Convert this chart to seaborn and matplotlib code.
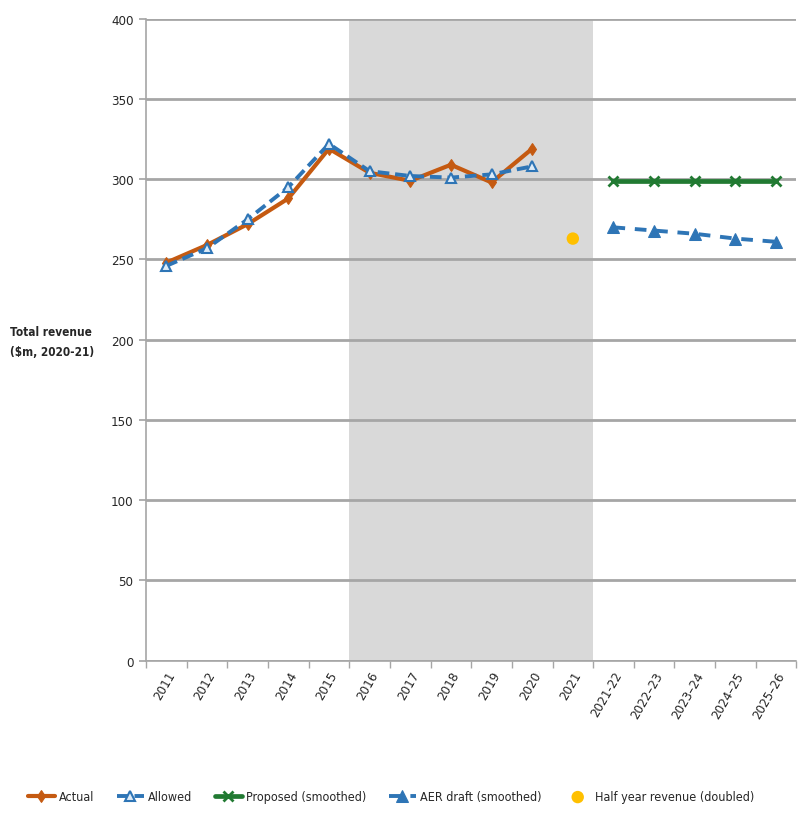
import numpy as np
import pandas as pd
import seaborn as sns
import matplotlib as mpl
from matplotlib import pyplot as plt

# categories on the x axis
years = ['2011', '2012', '2013', '2014', '2015', '2016', '2017', '2018', '2019', '2020',
         '2021', '2021-22', '2022\u201323', '2023\u201324', '2024\u201325', '2025\u201326']

actual_years = years[:10]
actual = [248, 259, 272, 288, 319, 304, 299, 309, 298, 319]
allowed = [246, 257, 275, 295, 322, 305, 302, 301, 303, 308]

future_years = years[11:]
proposed = [299, 299, 299, 299, 299]
aer_draft = [270, 268, 266, 263, 261]

half_year_label = ['2021']
half_year = [263]

sns.set_theme(style="white")
plt.rcParams['font.family'] = ['DejaVu Sans']
plt.rcParams['font.stretch'] = 'condensed'

pos = {y: i for i, y in enumerate(years)}

df_hist = pd.DataFrame({'x': [pos[y] for y in actual_years], 'Actual': actual, 'Allowed': allowed})
df_fut = pd.DataFrame({'x': [pos[y] for y in future_years], 'Proposed': proposed, 'AER': aer_draft})
df_half = pd.DataFrame({'x': [pos[y] for y in half_year_label], 'v': half_year})

fig = plt.figure(figsize=(7.98, 8.2), dpi=100)
ax = fig.add_axes([0.183, 0.193, 0.815, 0.783])

orange = '#C55A11'
blue = '#2E75B6'
green = '#217A32'
yellow = '#FFC000'

ax.axvspan(4.5, 10.5, color='#D9D9D9', zorder=0, lw=0)

sns.lineplot(data=df_hist, x='x', y='Actual', ax=ax, color=orange, lw=3,
             marker='d', markersize=6, markeredgecolor=orange, label='Actual', zorder=3)
sns.lineplot(data=df_hist, x='x', y='Allowed', ax=ax, color=blue, lw=2.8,
             marker='^', markersize=7, markerfacecolor='#DDEBF7', markeredgecolor=blue,
             markeredgewidth=1.5, dashes=False, label='Allowed', zorder=4)
ax.lines[-1].set_linestyle((0, (3, 1.5)))
sns.lineplot(data=df_fut, x='x', y='Proposed', ax=ax, color=green, lw=3.4,
             marker='x', markersize=7, markeredgewidth=2, markeredgecolor=green,
             label='Proposed (smoothed)', zorder=3)
sns.lineplot(data=df_fut, x='x', y='AER', ax=ax, color=blue, lw=2.8,
             marker='^', markersize=8, markeredgecolor=blue,
             label='AER draft (smoothed)', zorder=3)
ax.lines[-1].set_linestyle((0, (3, 2.5)))
sns.scatterplot(data=df_half, x='x', y='v', ax=ax, color=yellow, s=80, marker='o',
                edgecolor='none', label='Half year revenue (doubled)', zorder=3)

ax.set_xlim(-0.5, len(years) - 0.5)
ax.set_ylim(0, 400)
ax.set_yticks(np.arange(0, 401, 50))
ax.yaxis.grid(True, color='#A6A6A6', lw=2)
ax.set_axisbelow(True)

ax.set_xticks(range(len(years)))
ax.set_xticklabels(years, rotation=60, ha='right', rotation_mode='anchor', fontsize=9.5)
ax.xaxis.set_minor_locator(mpl.ticker.FixedLocator(np.arange(-0.5, len(years), 1)))
ax.tick_params(axis='x', which='major', length=0, pad=6)
ax.tick_params(axis='x', which='minor', bottom=True, length=5, color='#A6A6A6')
ax.tick_params(axis='y', left=True, length=5, color='#A6A6A6', labelsize=9.5, pad=4)

for s in ['top', 'right']:
    ax.spines[s].set_visible(False)
for s in ['left', 'bottom']:
    ax.spines[s].set_color('#A6A6A6')
    ax.spines[s].set_linewidth(1.2)

ax.set_xlabel('')
ax.set_ylabel('')
fig.text(0.012, 0.582, 'Total revenue\n($m, 2020-21)', fontsize=8.5, fontweight='bold',
         ha='left', va='center', linespacing=1.7)

handles, labels = ax.get_legend_handles_labels()
ax.legend_.remove()
fig.legend(handles, labels, loc='center', bbox_to_anchor=(0.49, 0.027), ncol=5, frameon=False,
           fontsize=9, handlelength=2.2, handletextpad=0.3, columnspacing=1.8)

plt.savefig('out.png', dpi=100)
